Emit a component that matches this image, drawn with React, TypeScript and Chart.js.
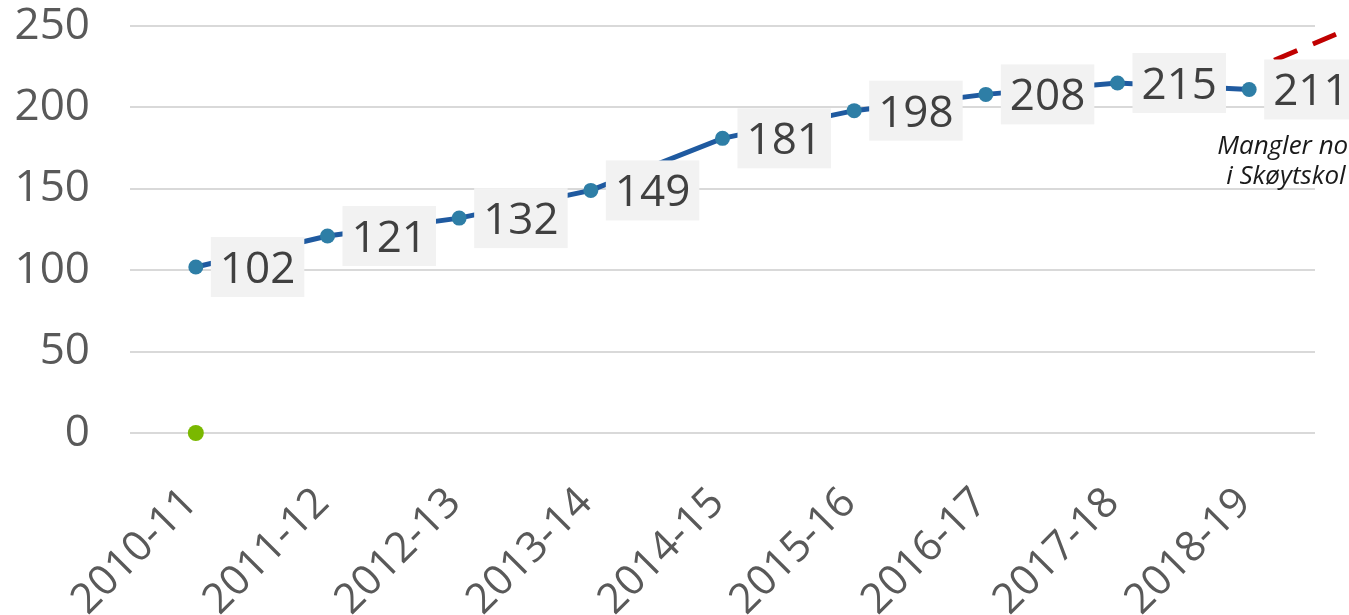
import React, { useEffect, useRef } from 'react';
import { Chart, registerables } from 'chart.js';

Chart.register(...registerables);

const categories = ['2010-11', '2011-12', '2012-13', '2013-14', '2014-15', '2015-16', '2016-17', '2017-18', '2018-19'];
const values = [102, 121, 132, 149, 181, 198, 208, 215, 211];
const greenValues = [0];
const trendX = [8.19, 8.75];
const trendY = [229, 248];
const yMin = 0;
const yMax = 250;
const yStep = 50;
const noteLines = ['Mangler no', 'i Skøytskol'];

const FONT = "'Open Sans', sans-serif";

const labelPlugin = {
  id: 'valueLabels',
  afterDatasetsDraw(chart: any) {
    const ctx = chart.ctx;
    const meta = chart.getDatasetMeta(0);
    ctx.save();
    ctx.font = `44px ${FONT}`;
    ctx.textAlign = 'center';
    ctx.textBaseline = 'alphabetic';
    meta.data.forEach((el: any, i: number) => {
      const text = String(values[i]);
      const w = ctx.measureText(text).width + 18;
      const h = 60;
      const left = el.x + 15;
      ctx.fillStyle = '#f2f2f2';
      ctx.fillRect(left, el.y - h / 2, w, h);
      ctx.fillStyle = '#404040';
      ctx.fillText(text, left + w / 2, el.y + 16);
    });
    const last = meta.data[meta.data.length - 1];
    ctx.font = `italic 26px ${FONT}`;
    ctx.fillStyle = '#1a1a1a';
    ctx.textAlign = 'left';
    ctx.fillText(noteLines[0], last.x - 32, last.y + 65);
    ctx.fillText(noteLines[1], last.x - 23, last.y + 95);
    ctx.restore();
  },
};

export default function App() {
  const ref = useRef<HTMLCanvasElement>(null);
  useEffect(() => {
    if (!ref.current) return;
    const chart = new Chart(ref.current, {
      type: 'line',
      data: {
        datasets: [
          {
            label: 'Antall',
            data: values.map((v, i) => ({ x: i, y: v })),
            borderColor: '#1f5aa0',
            borderWidth: 5,
            pointRadius: 7.5,
            pointHoverRadius: 7.5,
            pointBackgroundColor: '#2e7ea6',
            pointBorderWidth: 0,
          },
          {
            label: 'Start',
            data: greenValues.map((v, i) => ({ x: i, y: v })),
            showLine: false,
            pointRadius: 8,
            pointHoverRadius: 8,
            pointBackgroundColor: '#7ab800',
            pointBorderWidth: 0,
            clip: false as any,
          },
          {
            label: 'Trend',
            data: trendX.map((x, i) => ({ x, y: trendY[i] })),
            borderColor: '#c00000',
            borderWidth: 5,
            borderDash: [25, 17],
            pointRadius: 0,
            clip: false as any,
          },
        ],
      },
      options: {
        animation: false,
        responsive: true,
        maintainAspectRatio: false,
        layout: { padding: { right: 34, top: 0, left: 0, bottom: 0 } },
        plugins: { legend: { display: false }, tooltip: { enabled: false } },
        scales: {
          x: {
            type: 'linear',
            min: -0.5,
            max: categories.length - 0.5,
            grid: { display: false },
            border: { display: false },
            afterBuildTicks: (s: any) => {
              s.ticks = categories.map((_, i) => ({ value: i }));
            },
            afterFit: (s: any) => {
              s.height = 182;
            },
            ticks: {
              autoSkip: false,
              minRotation: 45,
              maxRotation: 45,
              padding: 55,
              labelOffset: -5,
              color: '#595959',
              font: { family: FONT, size: 42, lineHeight: 0.01 },
              callback: (v: any) => categories[v as number],
            },
          },
          y: {
            min: yMin,
            max: yMax,
            border: { display: false },
            grid: { color: '#d9d9d9', lineWidth: 2, drawTicks: false },
            afterFit: (s: any) => {
              s.width = 130;
              s.paddingTop = 26;
              s.paddingBottom = 0;
            },
            ticks: {
              stepSize: yStep,
              padding: 40,
              color: '#595959',
              font: { family: FONT, size: 44 },
            },
          },
        },
      },
      plugins: [labelPlugin],
    });
    return () => chart.destroy();
  }, []);
  return (
    <div style={{ position: 'fixed', left: 0, top: 0, width: 1349, height: 615, background: '#fff' }}>
      <canvas ref={ref} />
    </div>
  );
}
